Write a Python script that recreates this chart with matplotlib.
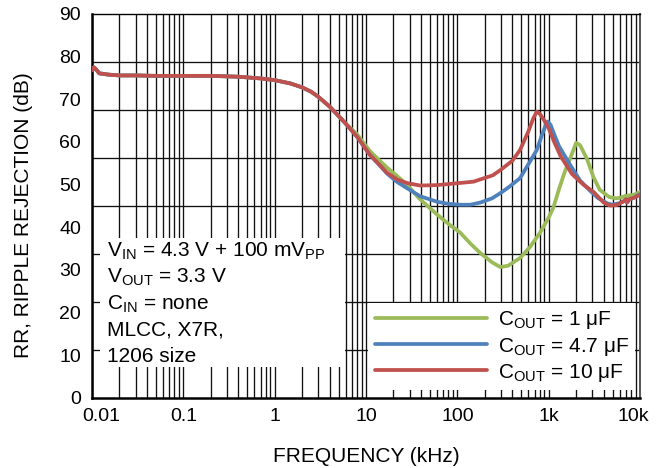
import matplotlib
matplotlib.use("Agg")
import matplotlib.pyplot as plt
import matplotlib.transforms as mtransforms
from matplotlib.patches import Rectangle

plt.rcParams['font.family'] = ['Liberation Sans', 'DejaVu Sans']
plt.rcParams['mathtext.fontset'] = 'custom'
plt.rcParams['mathtext.rm'] = 'Liberation Sans'
plt.rcParams['mathtext.it'] = 'Liberation Sans:italic'
plt.rcParams['mathtext.bf'] = 'Liberation Sans:bold'

# ---- data (frequency in kHz, ripple rejection in dB) ----
low_f = [0.01, 0.0105, 0.011, 0.012, 0.015, 0.02, 0.03, 0.05, 0.1, 0.2, 0.4, 0.7, 1.0, 1.5, 2.0, 2.5, 3.0, 4.0, 5.0, 6.0]
low_v = [76.8, 77.5, 77.1, 76.1, 75.8, 75.6, 75.6, 75.5, 75.5, 75.5, 75.3, 74.9, 74.5, 73.7, 72.8, 71.8, 70.6, 68.3, 66.1, 64.3]

green_f = low_f + [8.0, 11, 14, 17, 22, 28, 39, 60, 80, 107, 139, 178, 240, 295, 360, 485, 620, 803, 1000, 1120,
                   1300, 1500, 1710, 1840, 2000, 2200, 2630, 3090, 3620, 4600, 5500, 6200, 7000, 7300, 7600, 8500, 10000]
green_v = low_v + [61.8, 57.9, 55.7, 54.0, 52.0, 50.0, 46.6, 43.0, 40.8, 38.8, 36.2, 34.0, 31.8, 30.7, 31.0, 32.8, 35.3, 38.7, 42.3, 44.5,
                   49.0, 53.0, 56.0, 57.8, 59.8, 59.3, 56.0, 51.8, 48.8, 47.1, 46.8, 47.0, 47.4, 46.8, 47.5, 47.6, 48.3]

blue_f = low_f + [8.0, 11, 14, 17, 22, 28, 39, 60, 80, 107, 139, 178, 240, 295, 360, 485, 620, 740, 850, 930, 980,
                  1050, 1150, 1300, 1700, 2200, 2800, 3500, 4400, 5000, 6000, 7000, 7300, 7600, 8500, 10000]
blue_v = low_v + [61.2, 57.0, 54.6, 52.6, 50.6, 49.2, 47.3, 46.0, 45.5, 45.3, 45.3, 45.8, 46.8, 48.0, 49.3, 51.5, 55.3, 58.1, 61.8, 64.0, 64.8,
                  64.0, 61.8, 59.0, 54.8, 51.0, 48.7, 46.8, 45.6, 45.3, 45.7, 46.3, 45.9, 46.5, 46.9, 47.8]

red_f = low_f + [8.0, 11, 14, 17, 22, 28, 39, 60, 107, 150, 245, 295, 400, 485, 600, 680, 740, 800, 900, 1000,
                 1150, 1350, 1800, 2400, 3100, 4000, 4700, 5500, 6500, 7000, 7200, 7600, 8500, 10000]
red_v = low_v + [61.2, 57.0, 54.7, 52.8, 51.2, 50.4, 49.8, 49.9, 50.4, 50.7, 52.2, 53.4, 55.6, 58.1, 62.5, 65.6, 67.1, 66.6, 65.0, 63.2,
                 60.0, 56.7, 52.5, 50.0, 48.3, 45.8, 45.1, 45.2, 46.0, 46.6, 45.8, 46.6, 46.9, 47.6]

series_labels = [r"C$_{\mathrm{OUT}}$ = 1 μF", r"C$_{\mathrm{OUT}}$ = 4.7 μF", r"C$_{\mathrm{OUT}}$ = 10 μF"]
series_colors = ["#9BBB59", "#4F81BD", "#C0504D"]

x_ticks = [0.01, 0.1, 1, 10, 100, 1000, 10000]
x_ticklabels = ["0.01", "0.1", "1", "10", "100", "1k", "10k"]
y_ticks = [0, 10, 20, 30, 40, 50, 60, 70, 80, 90]

note_lines = [r"V$_{\mathrm{IN}}$ = 4.3 V + 100 mV$_{\mathrm{PP}}$",
              r"V$_{\mathrm{OUT}}$ = 3.3 V",
              r"C$_{\mathrm{IN}}$ = none",
              "MLCC, X7R,",
              "1206 size"]

# ---- figure ----
fig = plt.figure(figsize=(6.61, 4.68), dpi=100)
ax = fig.add_axes([92/661, 1-398/468, 548/661, 384/468])
ax.set_xscale('log')
ax.set_xlim(0.01, 10000)
ax.set_ylim(0, 90)

minor_x = [m * 10.0**e for e in range(-2, 4) for m in range(2, 10)]
ax.set_xticks(x_ticks)
ax.set_xticklabels(x_ticklabels)
ax.set_xticks(minor_x, minor=True)
ax.xaxis.set_minor_formatter(plt.NullFormatter())
ax.set_yticks(y_ticks)
ax.set_yticks([11.25 * i for i in range(1, 8)], minor=True)
ax.tick_params(which='both', length=0, labelsize=14, colors='black')
ax.tick_params(axis='x', pad=7)
ax.tick_params(axis='y', pad=8)
ax.grid(True, axis='x', which='both', color='#111111', lw=0.95, zorder=0)
ax.grid(True, axis='y', which='minor', color='#111111', lw=0.95, zorder=0)
ax.grid(False, axis='y', which='major')
ax.set_axisbelow(True)

for sp in ['left', 'bottom']:
    ax.spines[sp].set_linewidth(1.8)
ax.spines['top'].set_linewidth(1.0)
ax.spines['right'].set_linewidth(1.4)
ax.spines['right'].set_color('#555555')

labels = ax.get_xticklabels()
labels[0].set_transform(labels[0].get_transform() + mtransforms.ScaledTranslation(9/100, 0, fig.dpi_scale_trans))
labels[-1].set_transform(labels[-1].get_transform() + mtransforms.ScaledTranslation(-7/100, 0, fig.dpi_scale_trans))

for f, v, lab, c in zip([green_f, blue_f, red_f], [green_v, blue_v, red_v], series_labels, series_colors):
    ax.plot(f, v, color=c, lw=2.7, label=lab, zorder=3, solid_capstyle='round', solid_joinstyle='round')

ax.add_patch(Rectangle((0.0146, 0.0807), 0.447, 0.336, transform=ax.transAxes,
                       facecolor='white', edgecolor='none', zorder=2))
for i, line in enumerate(note_lines):
    ax.text(0.027, 0.410 - i * 0.069, line, transform=ax.transAxes, fontsize=15,
            va='top', ha='left', zorder=4)

leg = ax.legend(loc='lower right', bbox_to_anchor=(0.991, 0.021), borderaxespad=0,
                fontsize=15, frameon=True, fancybox=False, framealpha=1,
                edgecolor='none', facecolor='white', handlelength=5.4,
                handletextpad=0.5, labelspacing=0.2, borderpad=0.3)
leg.set_zorder(5)

ax.set_xlabel("FREQUENCY (kHz)", fontsize=15, labelpad=16)
ax.set_ylabel("RR, RIPPLE REJECTION (dB)", fontsize=15)
ax.yaxis.set_label_coords(-0.108, 0.475)

fig.savefig("out.png", dpi=100)
